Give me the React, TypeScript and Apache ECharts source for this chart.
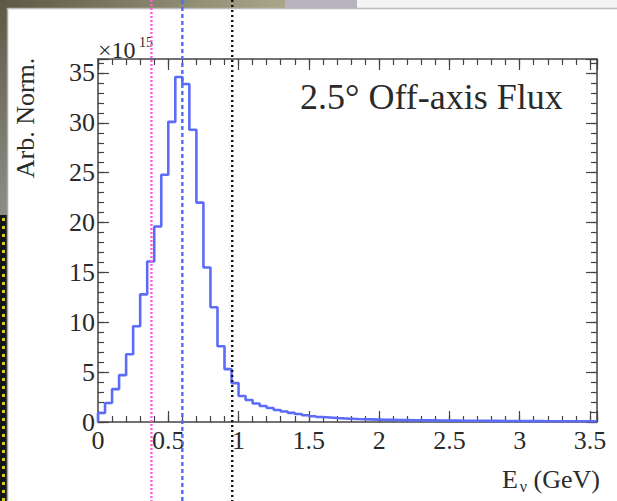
import React, { useEffect, useRef } from 'react';
import * as echarts from 'echarts';

// Histogram binning (GeV)
const binWidth = 0.05;
const xMin = 0;
const xMax = 3.55;
const yMin = 0;
const yMax = 36.4;

// Flux per 0.05 GeV bin, in units of 1e15
const fluxValues = [
  0.9, 1.9, 3.3, 4.7, 6.8, 9.6, 12.8, 16.1, 19.6, 24.8,
  30.1, 34.6, 33.9, 29.3, 22.0, 15.5, 11.5, 7.6, 5.3, 3.9,
  2.6, 2.2, 1.85, 1.6, 1.4, 1.2, 1.05, 0.92, 0.8, 0.68,
  0.58, 0.5, 0.45, 0.4, 0.36, 0.33, 0.3, 0.28, 0.26, 0.24,
  0.22, 0.21, 0.2, 0.19, 0.18, 0.17, 0.16, 0.16, 0.15, 0.14,
  0.14, 0.13, 0.13, 0.12, 0.12, 0.11, 0.11, 0.1, 0.1, 0.1,
  0.09, 0.09, 0.09, 0.08, 0.08, 0.08, 0.08, 0.07, 0.07, 0.07, 0.07,
];

const xTickLabels = ['0', '0.5', '1', '1.5', '2', '2.5', '3', '3.5'];
const yTickLabels = ['0', '5', '10', '15', '20', '25', '30', '35'];

// Vertical energy markers (GeV)
const markerValues = [0.38, 0.6, 0.955];
const markerColors = ['#ff5fd9', '#4d6bff', '#111111'];
const markerDashes = [[2, 2], [4, 3], [2, 3]];

const titleText = '2.5° Off-axis Flux';
const yTitle = 'Arb. Norm.';

const FONT = '"Liberation Serif", "Times New Roman", serif';
const AXIS_COLOR = '#444';
const TEXT_COLOR = '#2a2a2a';

export default function App() {
  const ref = useRef<HTMLDivElement>(null);

  useEffect(() => {
    document.body.style.margin = '0';
    if (!ref.current) return;
    const chart = echarts.init(ref.current, undefined, { renderer: 'svg' });

    const histData: number[][] = [[xMin, 0]];
    fluxValues.forEach((v, i) => histData.push([i * binWidth, v]));
    histData.push([fluxValues.length * binWidth, fluxValues[fluxValues.length - 1]]);
    histData.push([fluxValues.length * binWidth, 0]);

    const fmtX = (v: number) => {
      const s = String(+v.toFixed(2));
      return xTickLabels.includes(s) ? s : '';
    };
    const fmtY = (v: number) => {
      const s = String(+v.toFixed(2));
      return yTickLabels.includes(s) ? s : '';
    };

    const baseX = (position: 'top' | 'bottom', major: boolean) => ({
      type: 'value' as const,
      position,
      min: xMin,
      max: xMax,
      interval: major ? 0.5 : 0.1,
      axisLine: { show: major, onZero: false, lineStyle: { color: AXIS_COLOR, width: 1.5 } },
      axisTick: { show: true, inside: true, length: major ? 11 : 6, lineStyle: { color: AXIS_COLOR, width: 1.2 } },
      axisLabel: major && position === 'bottom'
        ? { show: true, formatter: fmtX, fontFamily: FONT, fontSize: 26, color: TEXT_COLOR, margin: 5 }
        : { show: false },
      splitLine: { show: false },
    });
    const baseY = (position: 'left' | 'right', major: boolean) => ({
      type: 'value' as const,
      position,
      min: yMin,
      max: yMax,
      interval: major ? 5 : 1,
      axisLine: { show: major, onZero: false, lineStyle: { color: AXIS_COLOR, width: 1.5 } },
      axisTick: { show: true, inside: true, length: major ? 11 : 6, lineStyle: { color: AXIS_COLOR, width: 1.2 } },
      axisLabel: major && position === 'left'
        ? { show: true, formatter: fmtY, fontFamily: FONT, fontSize: 26, color: TEXT_COLOR, margin: 3 }
        : { show: false },
      splitLine: { show: false },
    });

    chart.setOption({
      animation: false,
      backgroundColor: '#ffffff',
      grid: { left: 98, right: 20, top: 59, bottom: 79, containLabel: false },
      xAxis: [baseX('bottom', true), baseX('bottom', false), baseX('top', true), baseX('top', false)],
      yAxis: [baseY('left', true), baseY('left', false), baseY('right', true), baseY('right', false)],
      series: [
        {
          type: 'line',
          xAxisIndex: 0,
          yAxisIndex: 0,
          step: 'end',
          data: histData,
          symbol: 'none',
          lineStyle: { color: '#5d6cf8', width: 2.6 },
          z: 5,
        },
      ],
    });

    const markers = markerValues.map((v, i) => {
      const px = chart.convertToPixel({ xAxisIndex: 0 }, v) as number;
      return {
        type: 'line',
        z: 200,
        shape: { x1: px, y1: 0, x2: px, y2: 501 },
        style: { stroke: markerColors[i], lineWidth: 2.4, lineDash: markerDashes[i] },
      };
    });

    chart.setOption({
      graphic: [
        // slide decorations
        {
          type: 'rect', z: 1, shape: { x: 0, y: 0, width: 285, height: 8 },
          style: {
            fill: new echarts.graphic.LinearGradient(0, 0, 1, 0, [
              { offset: 0, color: '#5c5944' },
              { offset: 1, color: '#a9a78a' },
            ]),
          },
        },
        { type: 'rect', z: 1, shape: { x: 285, y: 0, width: 72, height: 8 }, style: { fill: '#b8b1c0' } },
        { type: 'rect', z: 1, shape: { x: 357, y: 0, width: 260, height: 8 }, style: { fill: '#f4f4f4' } },
        {
          type: 'rect', z: 1, shape: { x: 0, y: 0, width: 7, height: 215 },
          style: {
            fill: new echarts.graphic.LinearGradient(0, 0, 0, 1, [
              { offset: 0, color: '#5c5944' },
              { offset: 1, color: '#8e8e88' },
            ]),
          },
        },
        { type: 'rect', z: 1, shape: { x: 0, y: 215, width: 7, height: 286 }, style: { fill: '#161616' } },
        {
          type: 'line', z: 2, shape: { x1: 3.5, y1: 218, x2: 3.5, y2: 501 },
          style: { stroke: '#d6cf1e', lineWidth: 3, lineDash: [3, 5] },
        },
        { type: 'line', z: 2, shape: { x1: 7.5, y1: 8, x2: 7.5, y2: 501 }, style: { stroke: '#a8a8a8', lineWidth: 1.5 } },
        { type: 'line', z: 2, shape: { x1: 7, y1: 8.5, x2: 617, y2: 8.5 }, style: { stroke: '#bdbdbd', lineWidth: 1.5 } },
        // texts
        {
          type: 'text', z: 10, x: 300, y: 97,
          style: { text: titleText, font: `36px ${FONT}`, fill: TEXT_COLOR, verticalAlign: 'middle', align: 'left' },
        },
        {
          type: 'text', z: 10, x: 25, y: 118, rotation: Math.PI / 2,
          style: { text: yTitle, font: `26px ${FONT}`, fill: TEXT_COLOR, verticalAlign: 'middle', align: 'center' },
        },
        {
          type: 'text', z: 10, x: 98, y: 50,
          style: { text: '×10', font: `24px ${FONT}`, fill: TEXT_COLOR, verticalAlign: 'middle', align: 'left' },
        },
        {
          type: 'text', z: 10, x: 139, y: 42,
          style: { text: '15', font: `14px ${FONT}`, fill: TEXT_COLOR, verticalAlign: 'middle', align: 'left' },
        },
        {
          type: 'text', z: 10, x: 600, y: 479,
          style: { text: '(GeV)', font: `26px ${FONT}`, fill: TEXT_COLOR, verticalAlign: 'middle', align: 'right' },
        },
        {
          type: 'text', z: 10, x: 527, y: 486,
          style: { text: 'ν', font: `16px ${FONT}`, fill: TEXT_COLOR, verticalAlign: 'middle', align: 'right' },
        },
        {
          type: 'text', z: 10, x: 518, y: 479,
          style: { text: 'E', font: `26px ${FONT}`, fill: TEXT_COLOR, verticalAlign: 'middle', align: 'right' },
        },
        ...markers,
      ],
    });

    return () => chart.dispose();
  }, []);

  return <div ref={ref} style={{ width: 617, height: 501 }} />;
}
